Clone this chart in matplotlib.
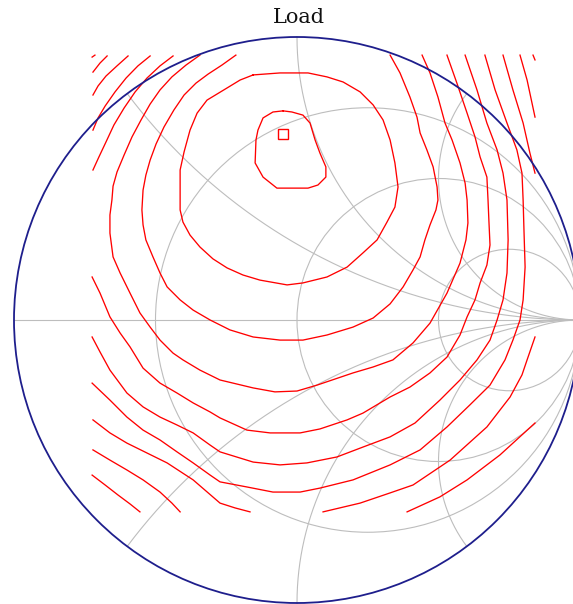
import numpy as np
import matplotlib
matplotlib.use('Agg')
import matplotlib.pyplot as plt
from matplotlib.patches import Circle

'''
Load-pull contours on a Smith chart (reflection coefficient plane, Gamma = re + j*im)
Each contour is a list of fragments, a fragment is a list of (re, im) points
read off the reference picture. Outer contours are cut by the measured area.
'''

# Smith chart grid values
R_CIRCLES = [1/3, 1, 3]      # constant resistance circles
X_ARCS = [0.5, 1, 2]         # constant reactance arcs (drawn for +x and -x)

# optimum point
OPT_RE = [-0.049]
OPT_IM = [0.657]

C1 = [[(-0.049, 0.739), (-0.018, 0.735), (0.021, 0.724), (0.046, 0.696), (0.064, 0.636),
       (0.081, 0.590), (0.102, 0.541), (0.102, 0.505), (0.074, 0.477), (0.039, 0.466),
       (-0.071, 0.466), (-0.120, 0.505), (-0.148, 0.555), (-0.145, 0.636), (-0.138, 0.671),
       (-0.120, 0.714), (-0.085, 0.735), (-0.049, 0.739)]]

C2 = [[(-0.155, 0.866), (-0.060, 0.873), (0.039, 0.873), (0.106, 0.859), (0.163, 0.841),
       (0.223, 0.806), (0.269, 0.760), (0.304, 0.707), (0.329, 0.636), (0.346, 0.555),
       (0.357, 0.470), (0.346, 0.399), (0.318, 0.346), (0.283, 0.283), (0.233, 0.237),
       (0.177, 0.187), (0.106, 0.152), (0.021, 0.131), (-0.035, 0.124), (-0.131, 0.141),
       (-0.191, 0.159), (-0.247, 0.184), (-0.297, 0.216), (-0.343, 0.258), (-0.378, 0.300),
       (-0.403, 0.346), (-0.413, 0.389), (-0.413, 0.459), (-0.413, 0.530), (-0.399, 0.594),
       (-0.378, 0.671), (-0.353, 0.731), (-0.318, 0.777), (-0.247, 0.820), (-0.201, 0.848),
       (-0.155, 0.866)]]

C3 = [[(-0.216, 0.936), (-0.265, 0.901), (-0.314, 0.869), (-0.357, 0.837), (-0.399, 0.795),
       (-0.435, 0.742), (-0.470, 0.682), (-0.498, 0.622), (-0.519, 0.565), (-0.534, 0.512),
       (-0.544, 0.459), (-0.548, 0.389), (-0.544, 0.336), (-0.534, 0.283), (-0.509, 0.223),
       (-0.484, 0.166), (-0.459, 0.117), (-0.413, 0.071), (-0.367, 0.035), (-0.307, 0.0),
       (-0.237, -0.035), (-0.155, -0.060), (-0.060, -0.071), (0.021, -0.071), (0.106, -0.053),
       (0.198, -0.025), (0.269, 0.007), (0.329, 0.057), (0.375, 0.117), (0.410, 0.177),
       (0.435, 0.223), (0.452, 0.283), (0.470, 0.336), (0.491, 0.389), (0.498, 0.424),
       (0.495, 0.470), (0.481, 0.541), (0.459, 0.601), (0.435, 0.661), (0.424, 0.717),
       (0.399, 0.788), (0.364, 0.873), (0.329, 0.936)]]

C4 = [[(-0.343, 0.936), (-0.392, 0.901), (-0.442, 0.859), (-0.484, 0.813), (-0.519, 0.763),
       (-0.551, 0.707), (-0.583, 0.647), (-0.611, 0.583), (-0.636, 0.523), (-0.650, 0.473),
       (-0.654, 0.424), (-0.661, 0.371), (-0.661, 0.307), (-0.650, 0.223), (-0.625, 0.166),
       (-0.590, 0.095), (-0.555, 0.025), (-0.519, -0.025), (-0.484, -0.071), (-0.438, -0.117),
       (-0.403, -0.141), (-0.343, -0.177), (-0.272, -0.212), (-0.155, -0.240), (-0.078, -0.254),
       (0.0, -0.251), (0.071, -0.230), (0.198, -0.187), (0.269, -0.166), (0.339, -0.141),
       (0.410, -0.081), (0.470, -0.011), (0.530, 0.095), (0.576, 0.201), (0.597, 0.283),
       (0.604, 0.343), (0.601, 0.424), (0.594, 0.484), (0.576, 0.555), (0.548, 0.636),
       (0.523, 0.696), (0.498, 0.788), (0.470, 0.873), (0.442, 0.936)]]

C5 = [[(-0.438, 0.933), (-0.484, 0.898), (-0.530, 0.855), (-0.572, 0.806), (-0.611, 0.749),
       (-0.647, 0.689), (-0.675, 0.629), (-0.700, 0.576), (-0.721, 0.530)],
      [(-0.724, 0.152), (-0.696, 0.095), (-0.661, 0.011), (-0.625, -0.046), (-0.590, -0.095),
       (-0.544, -0.170), (-0.484, -0.223), (-0.424, -0.258), (-0.367, -0.293), (-0.307, -0.325),
       (-0.272, -0.346), (-0.177, -0.389), (-0.095, -0.399), (0.011, -0.399), (0.081, -0.385),
       (0.177, -0.353), (0.233, -0.329), (0.329, -0.272), (0.399, -0.237), (0.470, -0.187),
       (0.530, -0.131), (0.576, -0.053), (0.601, 0.011), (0.629, 0.071), (0.647, 0.131),
       (0.671, 0.194), (0.682, 0.265), (0.678, 0.353), (0.675, 0.424), (0.671, 0.505),
       (0.647, 0.576), (0.629, 0.647), (0.601, 0.731), (0.565, 0.837), (0.530, 0.936)]]

C6 = [[(-0.519, 0.933), (-0.562, 0.898), (-0.604, 0.855), (-0.643, 0.806), (-0.678, 0.756),
       (-0.703, 0.714), (-0.721, 0.671)],
      [(-0.724, -0.060), (-0.696, -0.113), (-0.661, -0.177), (-0.601, -0.258), (-0.544, -0.307),
       (-0.484, -0.343), (-0.424, -0.371), (-0.367, -0.399), (-0.307, -0.442), (-0.272, -0.466),
       (-0.155, -0.502), (-0.060, -0.512), (0.035, -0.505), (0.141, -0.484), (0.233, -0.449),
       (0.329, -0.413), (0.417, -0.364), (0.505, -0.283), (0.576, -0.212), (0.636, -0.141),
       (0.682, -0.071), (0.707, 0.0), (0.728, 0.071), (0.742, 0.166), (0.746, 0.283),
       (0.742, 0.424), (0.728, 0.519), (0.707, 0.601), (0.671, 0.696), (0.636, 0.813),
       (0.594, 0.936)]]

C7 = [[(-0.597, 0.933), (-0.636, 0.898), (-0.675, 0.862), (-0.703, 0.827), (-0.721, 0.795)],
      [(-0.724, -0.223), (-0.661, -0.283), (-0.601, -0.343), (-0.544, -0.389), (-0.484, -0.424),
       (-0.424, -0.466), (-0.367, -0.505), (-0.307, -0.548), (-0.272, -0.572), (-0.177, -0.590),
       (-0.085, -0.608), (0.011, -0.608), (0.081, -0.594), (0.198, -0.565), (0.329, -0.512),
       (0.435, -0.459), (0.530, -0.378), (0.611, -0.300), (0.682, -0.230), (0.735, -0.141),
       (0.763, -0.071), (0.788, 0.0), (0.799, 0.071), (0.806, 0.187), (0.802, 0.318),
       (0.799, 0.424), (0.795, 0.519), (0.777, 0.601), (0.742, 0.696), (0.700, 0.813),
       (0.664, 0.936)]]

C8 = [[(-0.671, 0.933), (-0.696, 0.908), (-0.721, 0.876)],
      [(0.728, 0.936), (0.763, 0.813), (0.799, 0.696), (0.823, 0.590), (0.841, 0.519)],
      [(-0.721, -0.353), (-0.661, -0.399), (-0.601, -0.435), (-0.530, -0.470), (-0.459, -0.505),
       (-0.367, -0.565), (-0.272, -0.647), (-0.219, -0.664), (-0.166, -0.678)],
      [(0.092, -0.678), (0.223, -0.647), (0.329, -0.611), (0.410, -0.583), (0.541, -0.495),
       (0.671, -0.378), (0.753, -0.272), (0.795, -0.194), (0.813, -0.141), (0.841, -0.060)]]

C9 = [[(-0.724, 0.929), (-0.714, 0.936)],
      [(0.788, 0.936), (0.813, 0.848), (0.841, 0.717)],
      [(-0.721, -0.459), (-0.661, -0.495), (-0.601, -0.530), (-0.544, -0.565), (-0.484, -0.608),
       (-0.442, -0.647), (-0.413, -0.678)],
      [(0.389, -0.678), (0.505, -0.625), (0.601, -0.565), (0.717, -0.477), (0.841, -0.364)]]

C10 = [[(0.834, 0.936), (0.841, 0.919)],
       [(-0.724, -0.548), (-0.678, -0.583), (-0.633, -0.618), (-0.590, -0.650), (-0.555, -0.678)]]

CONTOURS = [C1, C2, C3, C4, C5, C6, C7, C8, C9, C10]

# page layout (pixels): chart centre and radius inside a 573x604 picture
W, H = 573, 604
CX, CY, RAD = 297, 320, 283

GRID = '#bdbdbd'
RED = '#ff0000'
NAVY = '#1e1e8c'

fig = plt.figure(figsize=(W / 100, H / 100), dpi=100)
ax = fig.add_axes([0, 0, 1, 1])
ax.set_xlim(-CX / RAD, (W - CX) / RAD)
ax.set_ylim(-(H - CY) / RAD, CY / RAD)
ax.set_aspect('equal')
ax.axis('off')

# grid: resistance circles
for r in R_CIRCLES:
    ax.add_patch(Circle((r / (1 + r), 0), 1 / (1 + r), fill=False, ec=GRID, lw=0.8, zorder=1))

# grid: reactance arcs, traced through the unit circle
rr = np.concatenate([np.linspace(0, 1, 300), np.logspace(0, 4, 400)])
for x in X_ARCS:
    for s in (1, -1):
        z = rr + 1j * s * x
        g = (z - 1) / (z + 1)
        ax.plot(g.real, g.imag, color=GRID, lw=0.8, zorder=1)
ax.plot([-1, 1], [0, 0], color=GRID, lw=0.8, zorder=1)

# load-pull contours
for cont in CONTOURS:
    for frag in cont:
        pts = np.array(frag)
        ax.plot(pts[:, 0], pts[:, 1], color=RED, lw=0.95, zorder=2)

ax.plot(OPT_RE, OPT_IM, 's', ms=7, mfc='none', mec=RED, mew=1.0, zorder=3)

# outer |Gamma| = 1 circle
ax.add_patch(Circle((0, 0), 1, fill=False, ec=NAVY, lw=1.3, zorder=4))

ax.text(0.005, 1.069, 'Load', ha='center', va='center', fontsize=15,
        family='DejaVu Serif', color='#101010')

fig.savefig('out.png', dpi=100)
